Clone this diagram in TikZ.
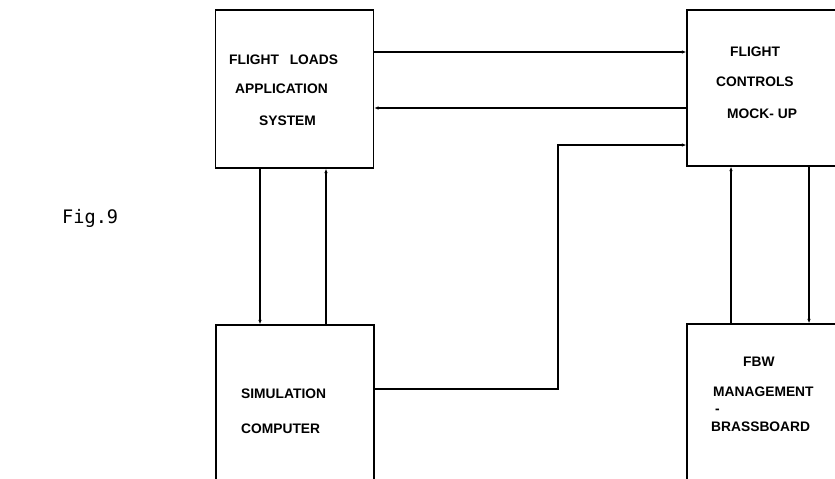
\documentclass[tikz,border=0pt]{standalone}
\usepackage{fontspec}
\setmainfont{Liberation Sans}
\newfontfamily\figfont{DejaVu Sans Mono}
\usetikzlibrary{arrows.meta}

\begin{document}
\begin{tikzpicture}[
  x=1pt, y=-1pt,
  block/.style={rectangle, draw, line width=1.2pt, minimum width=158pt, inner sep=0pt},
  lbl/.style={anchor=west, inner sep=0pt, font=\fontsize{13.8}{16}\selectfont\bfseries},
  arrow/.style={-{Latex[length=4.5pt,width=3.5pt]}, line width=1.2pt}
]
\useasboundingbox (0,0) rectangle (835,479);
\clip (0,0) rectangle (835,479);

% Blocks
\node[block, minimum height=158pt] (fla) at (294.5,89) {};
\node[block, minimum height=156pt] (fcm) at (766,88) {};
\node[block, minimum height=162pt] (sim) at (295,406) {};
\node[block, minimum height=162pt] (fbw) at (766,405) {};

% Labels
\node[lbl] (flaA) at (229,60) {FLIGHT\hspace{0.5em} LOADS};
\node[lbl] (flaB) at (235,89) {APPLICATION};
\node[lbl] (flaC) at (259,121) {SYSTEM};
\node[lbl] (fcmA) at (730,52) {FLIGHT};
\node[lbl] (fcmB) at (716,82) {CONTROLS};
\node[lbl] (fcmC) at (727,114) {MOCK- UP};
\node[lbl] (simA) at (241,394) {SIMULATION};
\node[lbl] (simB) at (241,429) {COMPUTER};
\node[lbl] (fbwA) at (743,362) {FBW};
\node[lbl] (fbwB) at (713,392) {MANAGEMENT};
\node[lbl] (fbwC) at (715,411) {-};
\node[lbl] (fbwD) at (711,427) {BRASSBOARD};

\node[anchor=west, inner sep=0pt, font=\figfont\fontsize{18.6}{22}\selectfont] (fig) at (62,218) {Fig.9};

% Connectors
\draw[arrow] (fla.east |- 0,52) -- (fcm.west |- 0,52);
\draw[arrow] (fcm.west |- 0,108) -- (fla.east |- 0,108);
\draw[arrow] (sim.east |- 0,389) -| (558,145) -- (fcm.west |- 0,145);
\draw[arrow] (fla.south -| 260,0) -- (sim.north -| 260,0);
\draw[arrow] (sim.north -| 326,0) -- (fla.south -| 326,0);
\draw[arrow] (fbw.north -| 731,0) -- (fcm.south -| 731,0);
\draw[arrow] (fcm.south -| 809,0) -- (fbw.north -| 809,0);

\end{tikzpicture}
\end{document}
